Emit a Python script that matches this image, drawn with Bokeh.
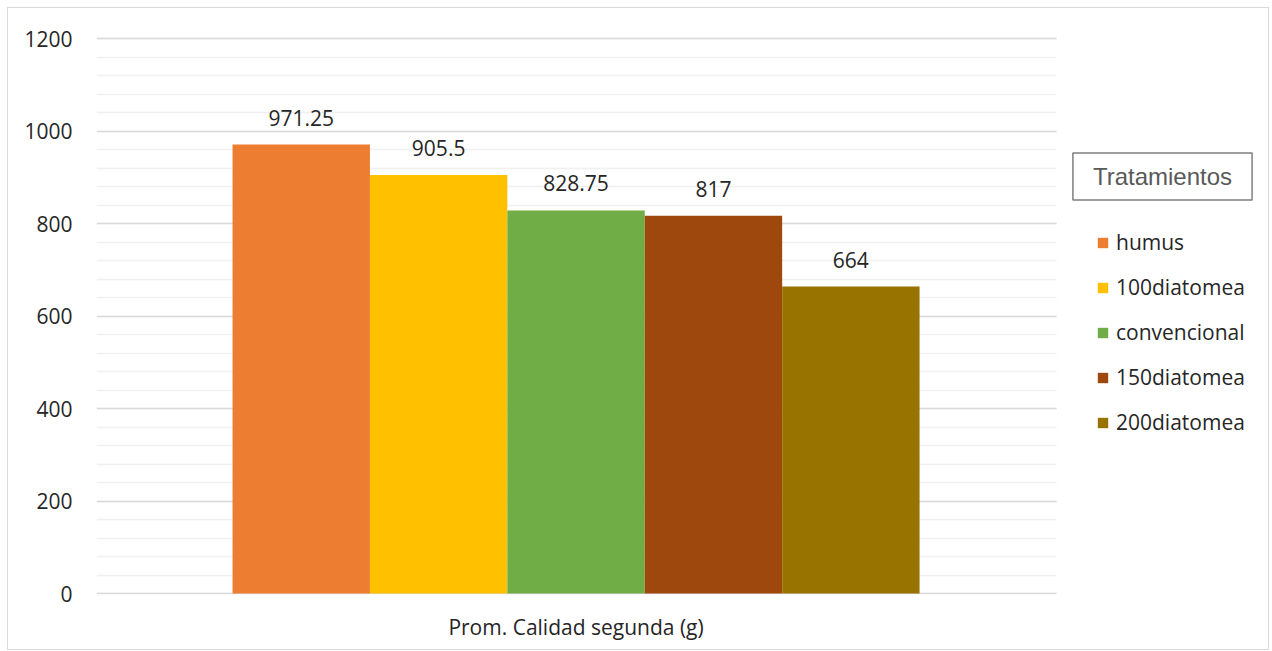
from bokeh.plotting import figure
from bokeh.models import (ColumnDataSource, Range1d, LabelSet, Legend, LegendItem,
                          SingleIntervalTicker, FixedTicker, Label)
from bokeh.core.properties import value
from bokeh.embed import file_html
from bokeh.resources import INLINE

# data
group_label = "Prom. Calidad segunda (g)"
treatments = ["humus", "100diatomea", "convencional", "150diatomea", "200diatomea"]
values = [971.25, 905.5, 828.75, 817, 664]
value_labels = ["971.25", "905.5", "828.75", "817", "664"]
colors = ["#ED7D31", "#FFC000", "#70AD47", "#9E480E", "#997300"]
y_ticks_interval = 200
y_max = 1200
legend_title = "Tratamientos"

FONT = "Open Sans"

n = len(treatments)
xs = [i + 0.5 for i in range(n)]
group_center = n / 2.0

source = ColumnDataSource(dict(x=xs, top=values, lab=value_labels, color=colors, name=treatments))

p = figure(
    x_range=Range1d(-0.99, 7.554),
    y_range=Range1d(-2, y_max + 5),
    width=1262, height=643,
    min_border_left=88, min_border_top=28, min_border_right=0, min_border_bottom=57,
    output_backend="svg", toolbar_location=None,
)
p.styles = {"border": "1px solid #d9d9d9", "margin": "7px 0px 0px 7px"}
p.outline_line_color = None
p.background_fill_color = "white"
p.border_fill_color = "white"

r = p.vbar(x="x", top="top", width=1.0, color="color", source=source, line_color=None)

# labels
labels = LabelSet(x="x", y="top", text="lab", source=source, text_align="center",
                  text_baseline="middle", y_offset=27, text_font=value(FONT),
                  text_font_size=value("21px"), text_color=value("#262626"))
p.add_layout(labels)

# axes
p.yaxis.ticker = SingleIntervalTicker(interval=y_ticks_interval, num_minor_ticks=5)
p.yaxis.axis_line_color = None
p.yaxis.major_tick_line_color = None
p.yaxis.minor_tick_line_color = None
p.yaxis.major_label_text_font = FONT
p.yaxis.major_label_text_font_size = "21px"
p.yaxis.major_label_text_color = "#262626"
p.yaxis.major_label_standoff = 18

p.xaxis.ticker = FixedTicker(ticks=[group_center])
p.xaxis.major_label_overrides = {group_center: group_label}
p.xaxis.axis_line_color = None
p.xaxis.major_tick_line_color = None
p.xaxis.minor_tick_line_color = None
p.xaxis.major_label_text_font = FONT
p.xaxis.major_label_text_font_size = "21px"
p.xaxis.major_label_text_color = "#262626"
p.xaxis.major_label_standoff = 12

p.xgrid.grid_line_color = None
p.ygrid.grid_line_color = "#d9d9d9"
p.ygrid.grid_line_width = 1.5
p.ygrid.minor_grid_line_color = "#f0f0f0"
p.ygrid.minor_grid_line_width = 1.5
p.ygrid.cross_bounds = (-0.99, 5.997)

# legend
items = []
for i, t in enumerate(treatments):
    items.append(LegendItem(label=t, renderers=[r], index=i))
legend = Legend(items=items, location=(1000, 158), orientation="vertical",
                glyph_width=13, glyph_height=13, label_standoff=7,
                label_text_font=FONT, label_text_font_size="21px",
                label_text_color="#262626", spacing=17, padding=0, margin=0,
                border_line_color=None, background_fill_alpha=0)
p.add_layout(legend, "center")

title_box = Label(x=1066, y=418, x_units="screen", y_units="screen", text=legend_title,
                  text_align="center", text_baseline="middle",
                  text_font="Liberation Sans", text_font_size="24px", text_color="#595959",
                  border_line_color="#7f7f7f", border_line_width=1.5,
                  background_fill_color="white", padding=(20, 20, 10, 10))
p.add_layout(title_box)

open("out.html", "w").write(file_html(p, INLINE))
